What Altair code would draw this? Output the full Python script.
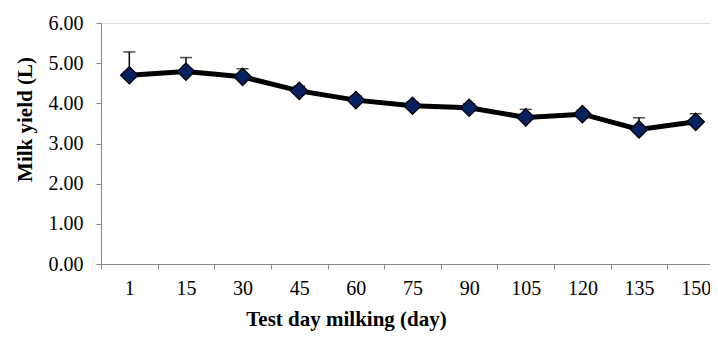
import altair as alt
import pandas as pd

days = ["1", "15", "30", "45", "60", "75", "90", "105", "120", "135", "150"]
milk_yield = [4.70, 4.79, 4.66, 4.31, 4.08, 3.94, 3.89, 3.65, 3.73, 3.35, 3.54]
error_up = [0.58, 0.35, 0.20, 0.12, 0.10, 0.10, 0.10, 0.20, 0.10, 0.29, 0.20]
y_ticks = [0, 1, 2, 3, 4, 5, 6]

df = pd.DataFrame({"day": days, "yield": milk_yield, "err": error_up})
df["upper"] = df["yield"] + df["err"]

FONT = "Liberation Serif"

x_enc = alt.X(
    "day:N",
    sort=days,
    scale=alt.Scale(range=[0, 623], paddingInner=0, paddingOuter=0),
    axis=alt.Axis(
        title="Test day milking (day)",
        labelAngle=0,
        tickBand="extent",
        domainColor="#868686",
        tickColor="#868686",
        tickSize=5,
        labelPadding=9,
        labelFont=FONT,
        labelFontSize=20,
        labelColor="black",
        titleFont=FONT,
        titleFontSize=21,
        titleFontWeight="bold",
        titleColor="black",
        titleX=245,
        titleY=61,
        titleBaseline="alphabetic",
        grid=False,
    ),
)

y_scale = alt.Scale(domain=[0, 6], nice=False)
y_enc = alt.Y(
    "yield:Q",
    scale=y_scale,
    axis=alt.Axis(
        title="Milk yield (L)",
        values=y_ticks,
        format=".2f",
        domainColor="#868686",
        tickColor="#868686",
        tickSize=5,
        labelPadding=13,
        labelFont=FONT,
        labelFontSize=20,
        labelColor="black",
        titleFont=FONT,
        titleFontSize=21,
        titleFontWeight="bold",
        titleColor="black",
        titleAngle=270,
        titleX=-70,
        titleY=96,
        titleAlign="center",
        titleBaseline="alphabetic",
        grid=False,
    ),
)

base = alt.Chart(df)

err_rule = base.mark_rule(color="black", strokeWidth=1.5).encode(
    x=x_enc, y=y_enc, y2="upper:Q"
)
err_cap = base.mark_tick(color="black", thickness=1.5, size=12, orient="horizontal").encode(
    x=alt.X("day:N", sort=days), y=alt.Y("upper:Q", scale=y_scale)
)
line = base.mark_line(color="black", strokeWidth=5).encode(x=x_enc, y=y_enc)
points = base.mark_point(
    shape="diamond", filled=True, fill="#06215f", stroke="black",
    strokeWidth=1.3, size=300, opacity=1
).encode(x=x_enc, y=y_enc)

chart = (
    alt.layer(err_rule, err_cap, line, points)
    .properties(
        width=609,
        height=241,
        autosize=alt.AutoSizeParams(type="none"),
        padding={"left": 93, "top": 15, "right": 0, "bottom": 68},
    )
    .configure_view(strokeWidth=0)
    .configure(background="white")
)

chart.save("out.html", embed_options={"renderer": "svg", "actions": False})
